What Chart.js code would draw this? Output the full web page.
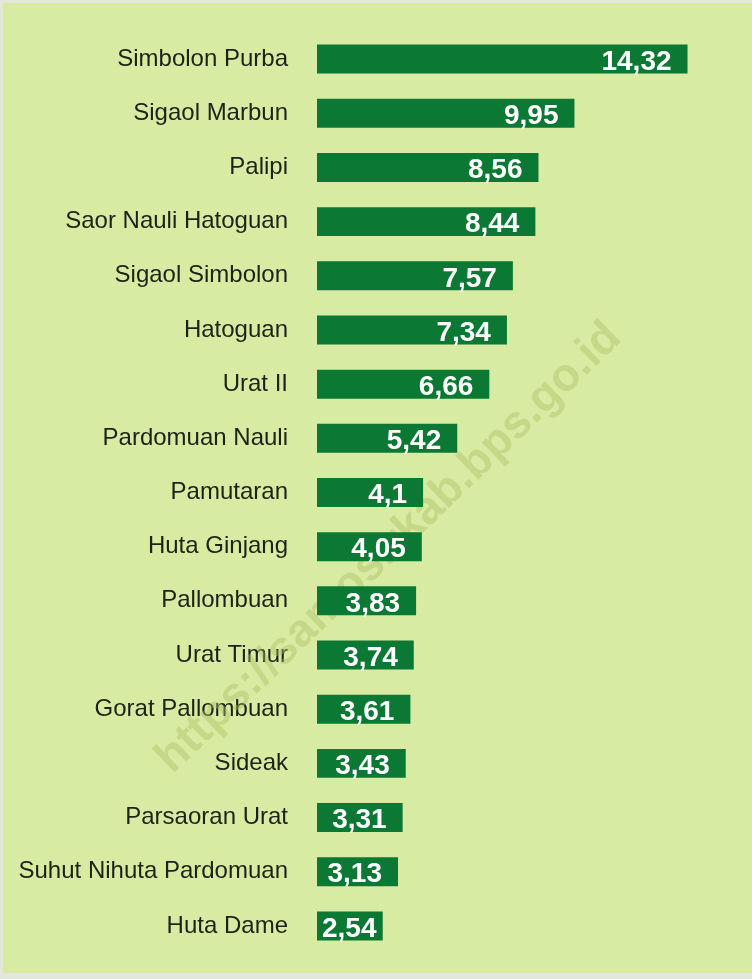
<!DOCTYPE html>
<html>
<head>
<meta charset="utf-8">
<style>
  html, body { margin: 0; padding: 0; background: #e3e7da; }
  #wrap { width: 752px; height: 979px; position: relative; }
</style>
<script src="https://cdn.jsdelivr.net/npm/chart.js@4.4.1/dist/chart.umd.min.js"></script>
</head>
<body>
<div id="wrap"><canvas id="Bar"></canvas></div>
<script>
// desa / kelurahan
var desa = [
  "Simbolon Purba", "Sigaol Marbun", "Palipi", "Saor Nauli Hatoguan",
  "Sigaol Simbolon", "Hatoguan", "Urat II", "Pardomuan Nauli",
  "Pamutaran", "Huta Ginjang", "Pallombuan", "Urat Timur",
  "Gorat Pallombuan", "Sideak", "Parsaoran Urat", "Suhut Nihuta Pardomuan",
  "Huta Dame"
];
var nilai = [14.32, 9.95, 8.56, 8.44, 7.57, 7.34, 6.66, 5.42, 4.1, 4.05, 3.83, 3.74, 3.61, 3.43, 3.31, 3.13, 2.54];

const bgColor = "#d8eba2";
const barColor = "#0b7834";
const watermark = "https://samosirkab.bps.go.id";

// background + frame + watermark
var bgPlugin = {
  id: "bg",
  beforeDraw(chart) {
    let ctx = chart.ctx;
    ctx.save();
    ctx.fillStyle = "#e3e7da";
    ctx.fillRect(0, 0, chart.width, chart.height);
    ctx.fillStyle = bgColor;
    ctx.fillRect(3, 3, chart.width - 3, chart.height - 9);
    ctx.restore();
  },
  beforeDatasetsDraw(chart) {
    let ctx = chart.ctx;
    ctx.save();
    ctx.translate(389, 548);
    ctx.rotate(-44 * Math.PI / 180);
    ctx.font = "bold 46px 'Liberation Sans', Arial, sans-serif";
    ctx.textAlign = "center";
    ctx.textBaseline = "middle";
    ctx.fillStyle = "rgba(170, 190, 100, 0.42)";
    ctx.fillText(watermark, 0, 0);
    ctx.restore();
  }
};

// angka di dalam batang
var valuePlugin = {
  id: "values",
  afterDatasetsDraw(chart) {
    let ctx = chart.ctx;
    let meta = chart.getDatasetMeta(0);
    ctx.save();
    ctx.font = "bold 28px 'Liberation Sans', Arial, sans-serif";
    ctx.fillStyle = "#ffffff";
    ctx.textAlign = "right";
    ctx.textBaseline = "middle";
    meta.data.forEach((bar, i) => {
      let txt = String(nilai[i]).replace(".", ",");
      let w = ctx.measureText(txt).width;
      let x = Math.max(bar.x - 16, bar.base + 5 + w);
      ctx.fillText(txt, x, bar.y + 3);
    });
    ctx.restore();
  }
};

var ctx = document.getElementById("Bar");
var Bar = new Chart(ctx, {
  type: "bar",
  data: {
    labels: desa,
    datasets: [{
      data: nilai,
      backgroundColor: barColor,
      borderWidth: 0,
      barPercentage: 0.535,
      categoryPercentage: 1
    }]
  },
  options: {
    indexAxis: "y",
    responsive: true,
    maintainAspectRatio: false,
    animation: false,
    layout: { padding: { top: 32, bottom: 26, left: 0, right: 21 } },
    plugins: {
      legend: { display: false },
      tooltip: { enabled: false }
    },
    scales: {
      x: {
        display: false,
        min: 0,
        max: 16
      },
      y: {
        // tickLength dipakai sebagai jarak label ke batang
        grid: { display: false, drawTicks: true, tickLength: 29, tickColor: "rgba(0,0,0,0)" },
        border: { display: false },
        afterFit(s) { s.width = 317; },
        ticks: {
          padding: 0,
          color: "#1b2216",
          font: { family: "'Liberation Sans', Arial, sans-serif", size: 24 }
        }
      }
    }
  },
  plugins: [bgPlugin, valuePlugin]
});
</script>
</body>
</html>
